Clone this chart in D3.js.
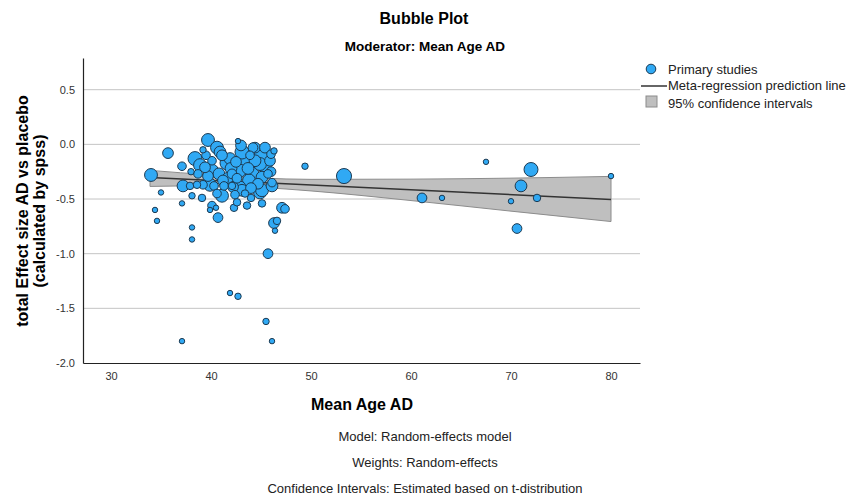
<!DOCTYPE html>
<html>
<head>
<meta charset="utf-8">
<script src="https://cdn.jsdelivr.net/npm/d3@7"></script>
<style>
  body { margin: 0; background: #fff; }
  svg { font-family: "Liberation Sans", Arial, sans-serif; }
</style>
</head>
<body>
<svg id="chart" width="849" height="502"></svg>
<script>
// study-level values
const ages = [34.0, 35.7, 35.0, 34.4, 34.6, 37.1, 37.1, 38.1, 38.1, 38.1, 39.1, 40.1, 39.9, 40.5, 40.7, 42.3,
  42.6, 43.6, 44.0, 45.1, 44.9, 43.4, 42.9, 42.1, 41.1, 46.1, 47.1, 47.4, 46.3, 46.6, 46.4, 45.7,
  41.9, 42.7, 45.5, 37.1, 46.1, 49.4, 53.3, 61.1, 63.1, 67.5, 70.0, 70.6, 71.0, 72.0, 72.6, 80.0,
  39.7, 42.7, 46.3, 39.2, 38.4, 38.9, 40.1, 40.1, 40.6, 43.1, 44.4, 45.1, 41.6, 43.4, 44.1, 45.4,
  45.1, 43.8, 40.8, 46.1, 37.2, 37.9, 38.6, 39.2, 39.9, 41.9, 41.7, 42.2, 42.9, 45.1, 43.1, 44.2,
  45.4, 44.4, 42.5, 44.7, 41.1, 39.5, 39.7, 42.1, 45.9, 40.3, 43.9, 42.6, 41.3, 45.7, 38.7, 38.0,
  40.9, 43.0, 44.9, 42.0, 41.2, 43.7, 46.0, 39.4, 44.0, 40.6, 46.0, 42.4];
const effects = [-0.28, -0.08, -0.44, -0.60, -0.70, -0.20, -0.54, -0.47, -0.76, -0.87, -0.49, -0.56, -0.60, -0.58, -0.67, -0.58,
  -0.53, -0.56, -0.49, -0.54, -0.44, -0.45, -0.39, -0.38, -0.47, -0.38, -0.58, -0.59, -0.72, -0.70, -0.79, -1.00,
  -1.36, -1.39, -1.62, -1.80, -1.80, -0.20, -0.29, -0.49, -0.49, -0.16, -0.52, -0.77, -0.38, -0.23, -0.49, -0.29,
  0.04, 0.03, -0.06, -0.05, -0.13, -0.19, -0.15, -0.24, -0.03, -0.07, -0.03, -0.10, -0.17, -0.17, -0.27, -0.21,
  -0.30, -0.33, -0.27, -0.35, -0.38, -0.38, -0.37, -0.37, -0.37, -0.13, -0.31, -0.39, -0.24, -0.42, -0.42, -0.03,
  -0.03, -0.15, -0.16, -0.36, -0.10, -0.10, -0.29, -0.27, -0.15, -0.38, -0.10, -0.31, -0.38, -0.27, -0.27, -0.25,
  -0.07, -0.01, -0.18, -0.22, -0.33, -0.22, -0.25, -0.21, -0.40, -0.45, -0.09, -0.46];
const weights = [56, 39, 10, 10, 10, 25, 10, 14, 10, 10, 19, 25, 10, 10, 32, 19,
  19, 19, 19, 19, 56, 19, 47, 19, 56, 47, 39, 25, 39, 19, 10, 32,
  10, 14, 14, 10, 10, 14, 77, 32, 10, 10, 10, 32, 47, 66, 19, 10,
  56, 10, 14, 14, 66, 56, 25, 56, 56, 66, 39, 88, 66, 77, 66, 56,
  47, 56, 47, 25, 47, 19, 19, 25, 56, 47, 47, 39, 56, 56, 47, 32,
  39, 47, 39, 39, 39, 25, 39, 32, 39, 25, 25, 32, 25, 25, 25, 14,
  47, 39, 56, 47, 39, 47, 32, 39, 39, 25, 25, 25];

// prediction line and 95% band
const bandAge = [33.9, 40, 45, 50, 60, 70, 80];
const bandLow = [-0.385, -0.378, -0.394, -0.426, -0.514, -0.611, -0.706];
const bandHigh = [-0.238, -0.280, -0.308, -0.320, -0.318, -0.309, -0.293];
const fitAge = [33.9, 80];
const fitEffect = [-0.302, -0.504];

const yTicks = [0.5, 0.0, -0.5, -1.0, -1.5, -2.0];
const xTicks = [30, 40, 50, 60, 70, 80];
const notes = ['Model: Random-effects model', 'Weights: Random-effects',
  'Confidence Intervals: Estimated based on t-distribution'];

const svg = d3.select('#chart');
const plot = { left: 83, top: 58, right: 640, bottom: 363 };

const x = d3.scaleLinear().domain([27.2, 82.9]).range([plot.left, plot.right]);
const y = d3.scaleLinear().domain([-2.0, 0.79]).range([plot.bottom, plot.top]);
const r = d3.scaleSqrt().domain([0, 100]).range([0, 8.6]);

// grid
svg.append('g').selectAll('line')
  .data(yTicks.filter(d => d > -2))
  .join('line')
  .attr('x1', plot.left).attr('x2', plot.right)
  .attr('y1', d => y(d)).attr('y2', d => y(d))
  .attr('stroke', '#c4c4c4').attr('stroke-width', 1);

// band
const band = bandAge.map((a, i) => ({ a, lo: bandLow[i], hi: bandHigh[i] }));
svg.append('path')
  .datum(band)
  .attr('d', d3.area().x(d => x(d.a)).y0(d => y(d.lo)).y1(d => y(d.hi)).curve(d3.curveMonotoneX))
  .attr('fill', '#bfbfbf')
  .attr('stroke', '#8c8c8c')
  .attr('stroke-width', 1);

svg.append('path')
  .datum(fitAge.map((a, i) => [a, fitEffect[i]]))
  .attr('d', d3.line().x(d => x(d[0])).y(d => y(d[1])))
  .attr('fill', 'none')
  .attr('stroke', '#333')
  .attr('stroke-width', 1.5);

// bubbles, biggest first so small ones stay visible
const studies = ages.map((a, i) => ({ a, e: effects[i], w: weights[i] }))
  .sort((p, q) => q.w - p.w);
svg.append('g').selectAll('circle')
  .data(studies)
  .join('circle')
  .attr('cx', d => x(d.a))
  .attr('cy', d => y(d.e))
  .attr('r', d => r(d.w))
  .attr('fill', '#30a9f4')
  .attr('stroke', '#1c3a52')
  .attr('stroke-width', 1);

// axes
const yAxis = svg.append('g')
  .attr('transform', `translate(${plot.left},0)`)
  .call(d3.axisLeft(y).tickValues(yTicks).tickFormat(d3.format('.1f')).tickSize(0).tickPadding(8));
const xAxis = svg.append('g')
  .attr('transform', `translate(0,${plot.bottom})`)
  .call(d3.axisBottom(x).tickValues(xTicks).tickSize(0).tickPadding(9));
[yAxis, xAxis].forEach(g => {
  g.select('.domain').attr('stroke', '#222').attr('stroke-width', 1.2);
  g.selectAll('text').attr('font-size', 11).attr('fill', '#333')
    .attr('font-family', '"Liberation Sans", Arial, sans-serif');
});
yAxis.selectAll('text').text(d => d3.format('.1f')(d).replace('−', '-'));

// titles
svg.append('text').attr('x', 424).attr('y', 24).attr('text-anchor', 'middle')
  .attr('font-size', 16).attr('font-weight', 'bold').text('Bubble Plot');
svg.append('text').attr('x', 425).attr('y', 51).attr('text-anchor', 'middle')
  .attr('font-size', 13.5).attr('font-weight', 'bold').text('Moderator: Mean Age AD');

svg.append('text').attr('x', 362).attr('y', 410).attr('text-anchor', 'middle')
  .attr('font-size', 16).attr('font-weight', 'bold').text('Mean Age AD');

const yLab = svg.append('text')
  .attr('transform', 'translate(28,211) rotate(-90)')
  .attr('text-anchor', 'middle').attr('font-size', 16).attr('font-weight', 'bold');
yLab.append('tspan').attr('x', 0).attr('y', 0).text('total Effect size AD vs placebo');
yLab.append('tspan').attr('x', 0).attr('y', 17).text('(calculated by spss)');

svg.append('g').selectAll('text')
  .data(notes)
  .join('text')
  .attr('x', 425).attr('y', (d, i) => 441 + i * 26)
  .attr('text-anchor', 'middle').attr('font-size', 13).attr('fill', '#222')
  .text(d => d);

// legend
const lg = svg.append('g').attr('font-size', 13).attr('fill', '#222');
lg.append('circle').attr('cx', 651).attr('cy', 69).attr('r', 4.8)
  .attr('fill', '#30a9f4').attr('stroke', '#1c3a52');
lg.append('text').attr('x', 668).attr('y', 74).text('Primary studies');
lg.append('line').attr('x1', 641).attr('x2', 667).attr('y1', 86).attr('y2', 86)
  .attr('stroke', '#333').attr('stroke-width', 1.5);
lg.append('text').attr('x', 668).attr('y', 90).text('Meta-regression prediction line');
lg.append('rect').attr('x', 646).attr('y', 96).attr('width', 11).attr('height', 11)
  .attr('fill', '#bfbfbf').attr('stroke', '#8c8c8c');
lg.append('text').attr('x', 668).attr('y', 108).text('95% confidence intervals');
</script>
</body>
</html>
